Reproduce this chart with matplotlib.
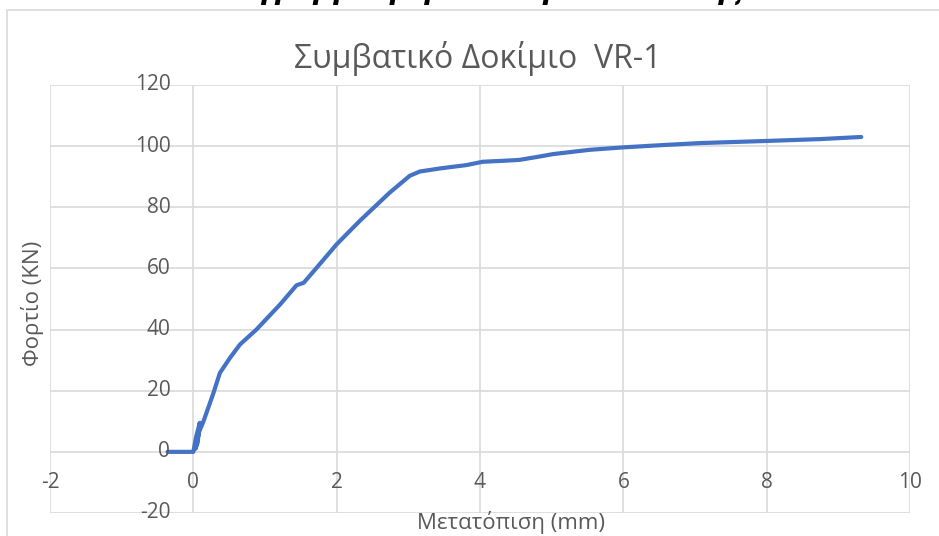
import numpy as np
import matplotlib.pyplot as plt
from matplotlib.patches import Rectangle

plt.rcParams['font.family'] = ['Open Sans', 'DejaVu Sans']

# μετατόπιση (mm) και φορτίο (KN), διαβασμένα από το διάγραμμα
disp = [-0.36, -0.2, -0.05, 0.0, 0.04, 0.09, 0.06, 0.03, 0.08, 0.14,
        0.28, 0.37, 0.51, 0.65, 0.88, 1.21, 1.44, 1.54, 1.72, 2.0,
        2.32, 2.74, 3.02, 3.16, 3.44, 3.81, 4.04, 4.32, 4.55, 4.83,
        5.02, 5.53, 6.0, 6.51, 7.07, 8.0, 8.74, 9.32]
load = [0.0, 0.0, 0.0, 0.0, 5.0, 9.5, 3.0, 1.0, 6.5, 9.9,
        19.2, 25.8, 30.7, 35.1, 40.0, 48.2, 54.5, 55.3, 60.2, 67.9,
        75.5, 84.8, 90.3, 91.7, 92.7, 93.8, 94.9, 95.2, 95.5, 96.6,
        97.4, 98.8, 99.6, 100.3, 101.0, 101.7, 102.3, 103.0]

xticks = [-2, 0, 2, 4, 6, 8, 10]
yticks = [-20, 0, 20, 40, 60, 80, 100, 120]

grey = '#D9D9D9'
txt = '#595959'

fig = plt.figure(figsize=(9.39, 5.36), dpi=100)
W, H = 939, 536

# πλαίσιο γραφήματος
fig.patches.append(Rectangle((7 / W, -0.1), 1.2, 1 - 9.5 / H + 0.1,
                             transform=fig.transFigure, fill=False,
                             edgecolor=grey, linewidth=1.2))

# κομμένος τίτλος πάνω από το γράφημα
fig.text(475 / W, 1 + 1 / H, 'Διάγραμμα φορτίου – μετατόπισης', ha='center',
         va='baseline', fontsize=20, fontweight='bold', style='italic',
         color='black', family=['DejaVu Sans'])

ax = fig.add_axes([50 / W, 1 - 513 / H, 860 / W, 428 / H])
ax.plot(disp, load, color='#4472C4', linewidth=3.0, solid_joinstyle='round',
        solid_capstyle='round', zorder=3)

ax.set_xlim(-2, 10)
ax.set_ylim(-20, 120)
ax.set_xticks(xticks)
ax.set_yticks(yticks)
ax.grid(True, color=grey, linewidth=1.2)
ax.set_axisbelow(True)
for s in ax.spines.values():
    s.set_visible(False)
ax.tick_params(length=0, labelbottom=False, labelleft=False)

# ετικέτες αξόνων δίπλα στους άξονες που περνούν από το μηδέν
for v in xticks:
    ax.annotate(str(v), (v, 0), xytext=(0, -31), textcoords='offset pixels',
                ha='center', va='center', fontsize=15, color=txt)
for v in yticks:
    ax.annotate(str(v), (0, v), xytext=(-23, 0), textcoords='offset pixels',
                ha='right', va='center', fontsize=15, color=txt)

fig.text(478 / W, 1 - 58 / H, 'Συμβατικό Δοκίμιο  VR-1', ha='center',
         va='center', fontsize=23, color=txt)
fig.text(511 / W, 1 - 522 / H, 'Μετατόπιση (mm)', ha='center', va='center',
         fontsize=16, color=txt)
fig.text(33 / W, 1 - 303 / H, 'Φορτίο (KN)', ha='center', va='center',
         rotation=90, fontsize=16, color=txt)

fig.savefig('out.png', dpi=100)
